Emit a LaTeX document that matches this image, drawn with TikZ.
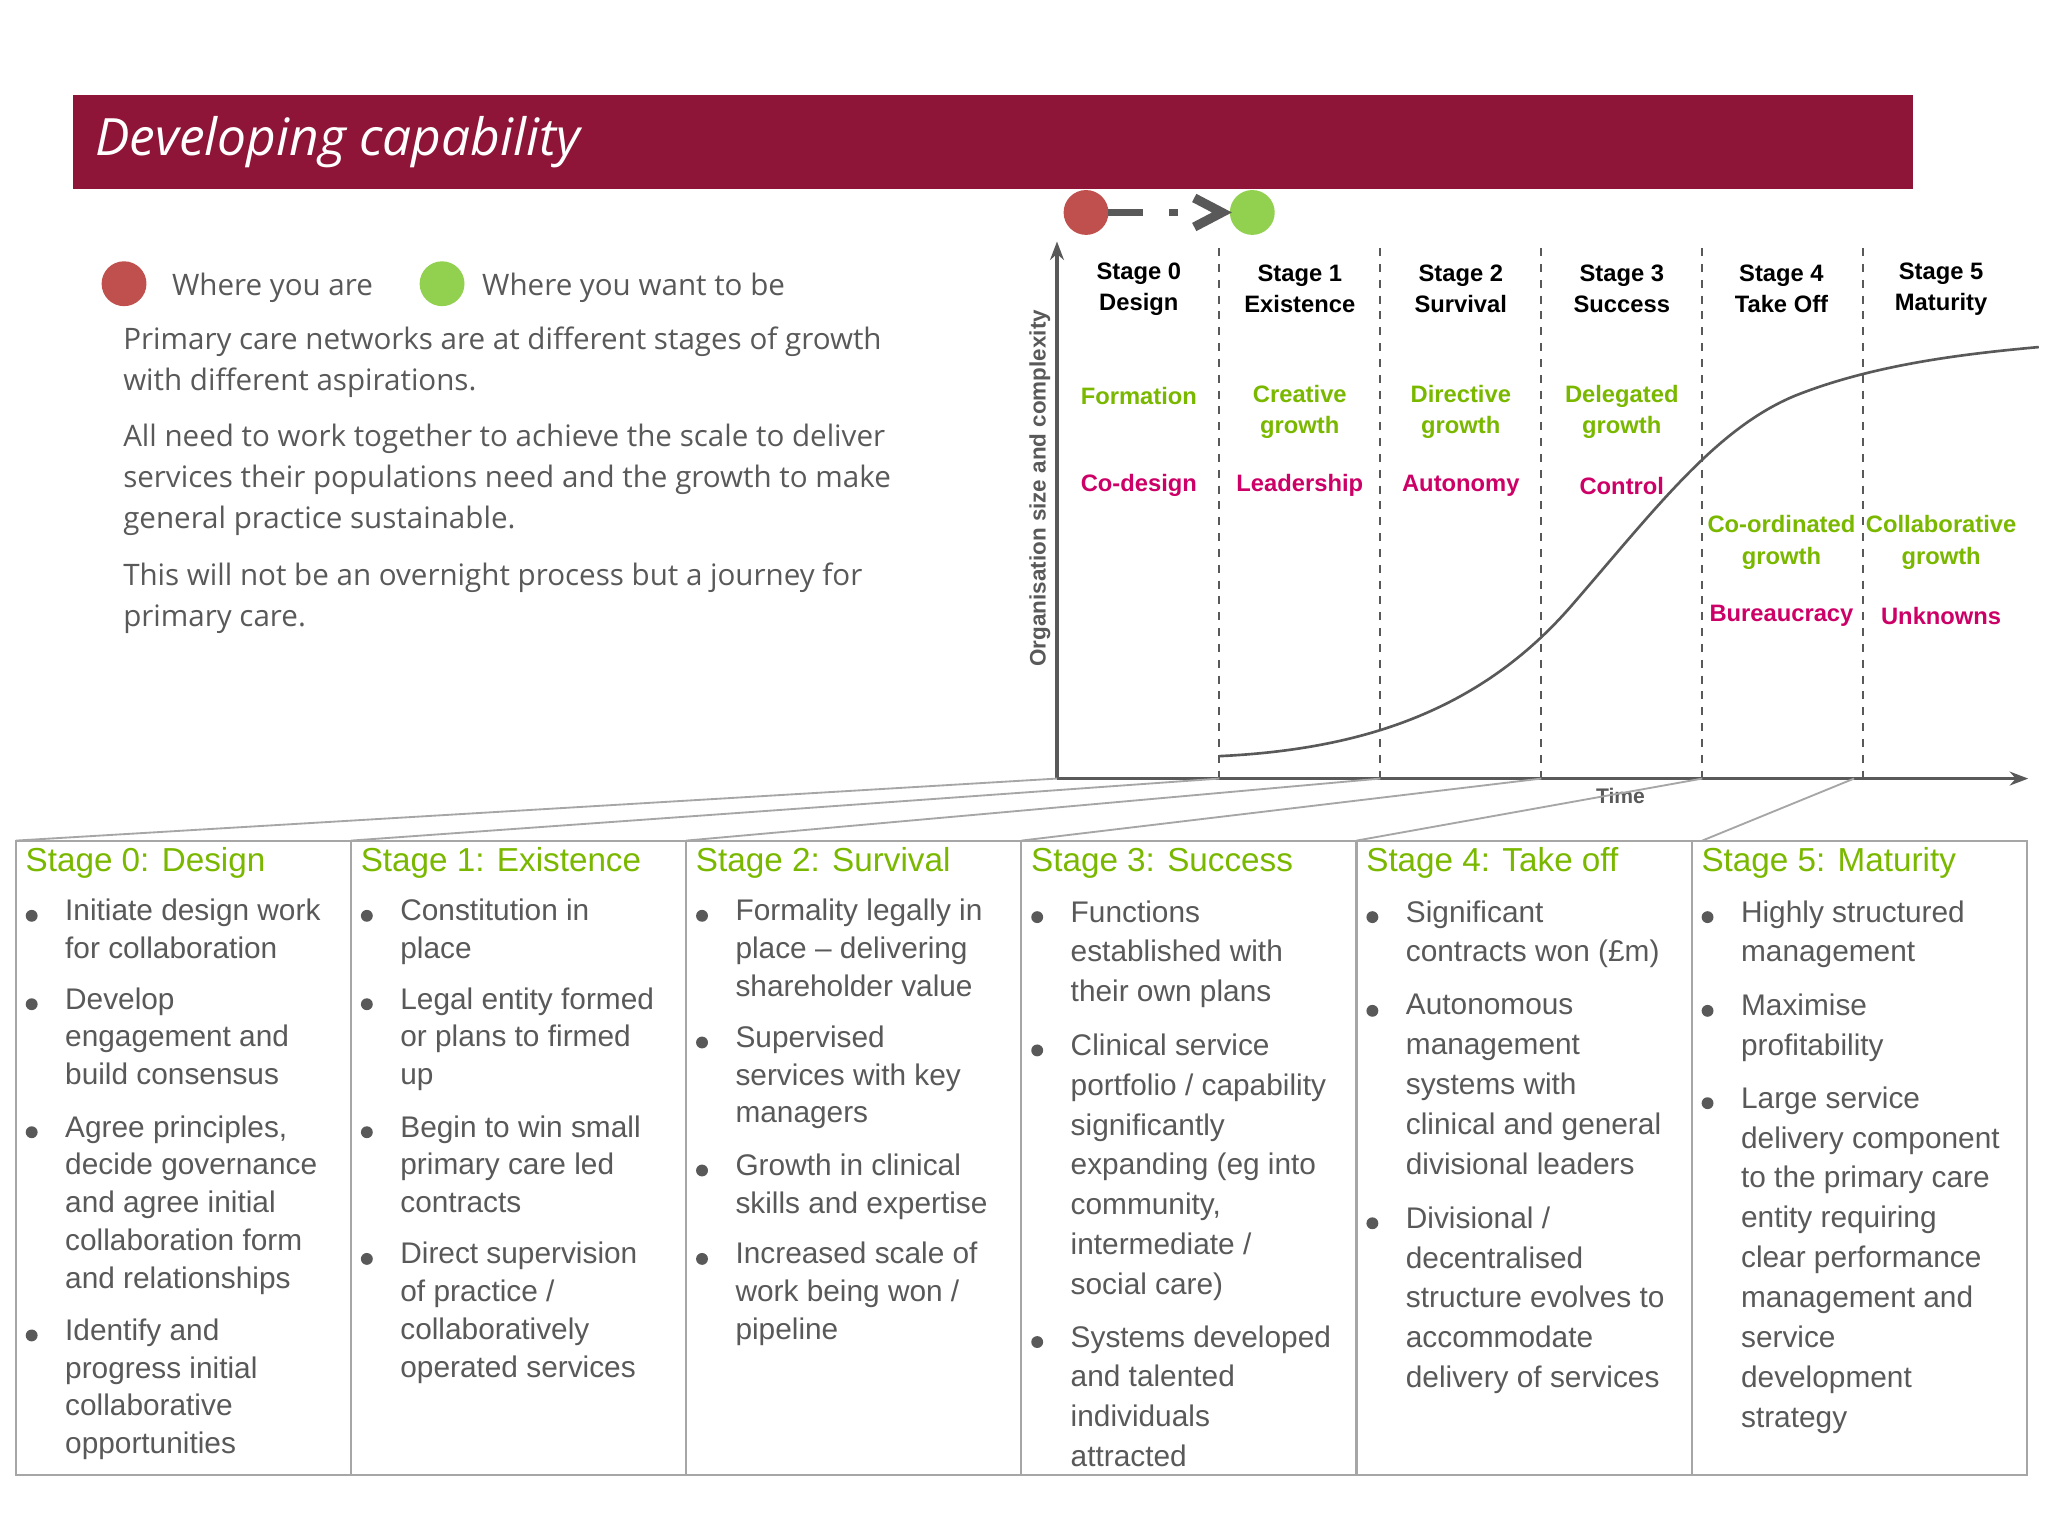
\documentclass[tikz,border=0pt]{standalone}
\usepackage{fontspec}
\setmainfont{Liberation Sans}
\newfontfamily\osans{Open Sans}
\usetikzlibrary{arrows.meta}
\definecolor{banner}{HTML}{8E1538}
\definecolor{redc}{HTML}{C0504D}
\definecolor{greenc}{HTML}{92D050}
\definecolor{txtg}{HTML}{595959}
\definecolor{lgreen}{HTML}{7AB800}
\definecolor{mag}{HTML}{CC0066}
\definecolor{axg}{HTML}{595959}
\tikzset{
 bdot/.style={circle,fill=txtg,inner sep=0,minimum size=4.5pt},
 btxt/.style={anchor=north west,inner sep=0,align=left,text=txtg,font=\fontsize{11.3}{14.3}\selectfont},
 btitle/.style={anchor=west,inner sep=0,text=lgreen,font=\fontsize{12.6}{15}\selectfont},
 shead/.style={align=center,inner sep=0,font=\bfseries\fontsize{9}{11.8}\selectfont},
 sgreen/.style={shead,text=lgreen},
 smag/.style={shead,text=mag},
 para/.style={anchor=west,inner sep=0,text=txtg,font=\osans\fontsize{11.2}{15.5}\selectfont,align=left},
 vdash/.style={dashed,axg,line width=0.8pt},
 boxl/.style={draw=gray!70,line width=0.8pt},
}
\newcommand\bitem[3]{\node[bdot] at ({#1+12},#2) {};\node[btxt] at ({#1+37},{#2-13}) {#3};}
\begin{document}
\begin{tikzpicture}[x=0.5pt,y=-0.5pt]
\useasboundingbox (0,0) rectangle (1552,1164);
\fill[white] (0,0) rectangle (1552,1164);
% banner
\fill[banner] (55,72) rectangle (1450,143);
\node[anchor=west,text=white,font=\osans\itshape\fontsize{19.5}{22}\selectfont,inner sep=0] (title) at (72,108) {Developing capability};
% legend
\fill[redc] (94,215) circle (17);
\fill[greenc] (335,215) circle (17);
\node[para] (l1) at (130,218) {Where you are};
\node[para] (l2) at (365,218) {Where you want to be};
\node[para,anchor=north west] (p1) at (93,247) {Primary care networks are at different stages of growth\\with different aspirations.};
\node[para,anchor=north west] (p2) at (93,321) {All need to work together to achieve the scale to deliver\\services their populations need and the growth to make\\general practice sustainable.};
\node[para,anchor=north west] (p3) at (93,426) {This will not be an overnight process but a journey for\\primary care.};
% top progress arrow
\fill[redc] (823,161) circle (17);
\fill[greenc] (949,161) circle (17);
\draw[axg,line width=3pt] (840,161) -- (866,161);
\fill[axg] (886,158) rectangle (893,164);
\draw[axg,line width=3.5pt] (905,150) -- (926,161) -- (905,172);
% axes
\coordinate (o) at (801,590);
\draw[axg,line width=1.2pt,-{Stealth[length=7pt]}] (o) -- (801,183);
\draw[axg,line width=1.2pt,-{Stealth[length=7pt]}] (o) -- (1537,590);
\node[rotate=90,text=txtg,font=\bfseries\fontsize{8.5}{10}\selectfont,inner sep=0] (ylab) at (788,370) {Organisation size and complexity};
\node[text=txtg,font=\bfseries\fontsize{8}{10}\selectfont,inner sep=0] (tlab) at (1228,603) {Time};
\foreach \x in {924,1046,1168,1290,1412} \draw[vdash] (\x,188) -- (\x,590);
% curve
\draw[axg,line width=1pt] (924,573) .. controls (1030,568) and (1120,540) .. (1190,460) .. controls (1255,385) and (1300,325) .. (1360,300) .. controls (1420,276) and (1490,268) .. (1545,263);
% headers
\foreach \x/\a/\b in {863/Stage 0/Design,985/Stage 1/Existence,1107/Stage 2/Survival,1229/Stage 3/Success,1350/Stage 4/Take Off,1471/Stage 5/Maturity}
 \node[shead] at (\x,219) {\a\\\b};
\node[sgreen] at (863,300) {Formation};
\node[sgreen] at (985,312) {Creative\\growth};
\node[sgreen] at (1107,312) {Directive\\growth};
\node[sgreen] at (1229,312) {Delegated\\growth};
\node[sgreen] at (1350,411) {Co-ordinated\\growth};
\node[sgreen] at (1471,411) {Collaborative\\growth};
\node[smag] at (863,368) {Co-design};
\node[smag] at (985,368) {Leadership};
\node[smag] at (1107,368) {Autonomy};
\node[smag] at (1229,368) {Control};
\node[smag] at (1350,467) {Bureaucracy};
\node[smag] at (1471,467) {Unknowns};
% connector lines
\foreach \bx/\ax in {12/801,266/924,520/1046,774/1168,1028/1290,1290/1405}
 \draw[gray!70,line width=0.7pt] (\bx,637) -- (\ax,590);
% boxes
\foreach \x in {12,266,520,774,1028,1282}
 \draw[boxl] (\x,637) rectangle ({\x+254},1118);
\node[btitle] at (19,654) {Stage 0: Design};
\node[btitle] at (273,654) {Stage 1: Existence};
\node[btitle] at (527,654) {Stage 2: Survival};
\node[btitle] at (781,654) {Stage 3: Success};
\node[btitle] at (1035,654) {Stage 4: Take off};
\node[btitle] at (1289,654) {Stage 5: Maturity};
\bitem{12}{694}{Initiate design work\\for collaboration}
\bitem{12}{761}{Develop\\engagement and\\build consensus}
\bitem{12}{858}{Agree principles,\\decide governance\\and agree initial\\collaboration form\\and relationships}
\bitem{12}{1012}{Identify and\\progress initial\\collaborative\\opportunities}
\bitem{266}{694}{Constitution in\\place}
\bitem{266}{761}{Legal entity formed\\or plans to firmed\\up}
\bitem{266}{858}{Begin to win small\\primary care led\\contracts}
\bitem{266}{954}{Direct supervision\\of practice /\\collaboratively\\operated services}
\bitem{520}{694}{Formality legally in\\place -- delivering\\shareholder value}
\bitem{520}{790}{Supervised\\services with key\\managers}
\bitem{520}{887}{Growth in clinical\\skills and expertise}
\bitem{520}{954}{Increased scale of\\work being won /\\pipeline}
\begin{scope}[btxt/.append style={font=\fontsize{11.3}{15.1}\selectfont}]
\bitem{774}{695}{Functions\\established with\\their own plans}
\bitem{774}{796}{Clinical service\\portfolio / capability\\significantly\\expanding (eg into\\community,\\intermediate /\\social care)}
\bitem{774}{1017}{Systems developed\\and talented\\individuals\\attracted}
\bitem{1028}{695}{Significant\\contracts won (£m)}
\bitem{1028}{766}{Autonomous\\management\\systems with\\clinical and general\\divisional leaders}
\bitem{1028}{927}{Divisional /\\decentralised\\structure evolves to\\accommodate\\delivery of services}
\bitem{1282}{695}{Highly structured\\management}
\bitem{1282}{766}{Maximise\\profitability}
\bitem{1282}{836}{Large service\\delivery component\\to the primary care\\entity requiring\\clear performance\\management and\\service\\development\\strategy}
\end{scope}
\end{tikzpicture}
\end{document}
